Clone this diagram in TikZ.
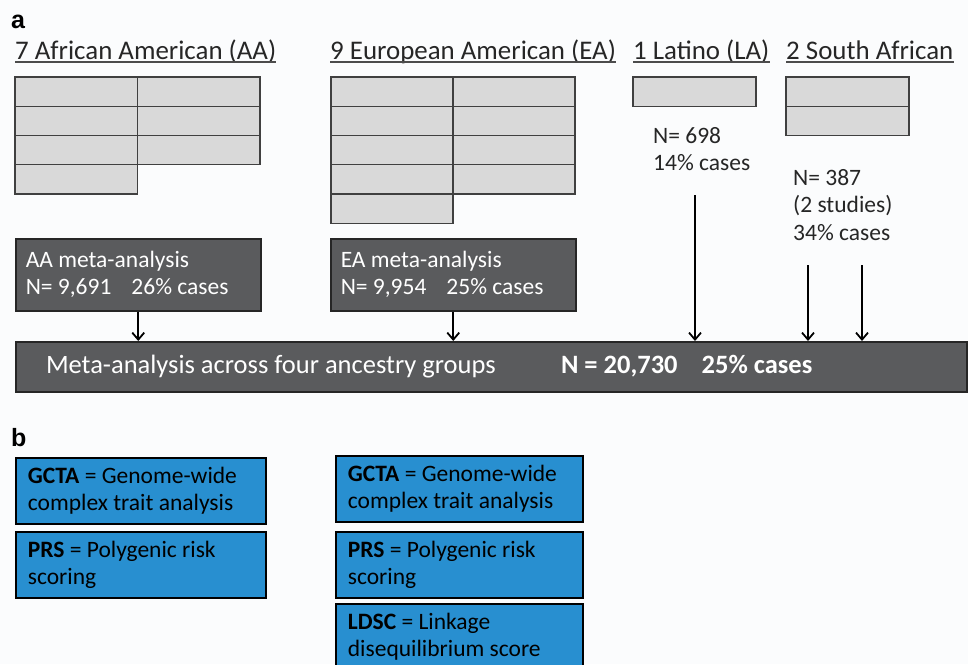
\documentclass[tikz,border=0pt]{standalone}
\usepackage{fontspec}
\setmainfont{Carlito}
\newfontfamily\lettre{Liberation Sans}
\usetikzlibrary{arrows.meta,positioning}
\definecolor{fond}{RGB}{251,252,253}
\definecolor{grisclair}{RGB}{217,217,217}
\definecolor{grisfonce}{RGB}{90,91,93}
\definecolor{bleu}{RGB}{40,143,208}
\begin{document}
\begin{tikzpicture}[x=1pt,y=-1pt]
\tikzset{
	every node/.style={execute at begin node={\spaceskip=0pt\xspaceskip=0pt\relax}},
	lettre/.style={anchor=base west, inner sep=0pt, font=\lettre\bfseries\fontsize{25}{25}\selectfont},
	titre/.style={anchor=base west, inner sep=0pt, text=black!85, font=\fontsize{26.9}{30}\selectfont},
	souligne/.style={black!70, line width=1.2pt},
	etude/.style={draw=black!75, fill=grisclair, line width=1.3pt},
	note/.style={anchor=base west, inner sep=0pt, text=black!85, font=\fontsize{23.5}{27}\selectfont},
	meta/.style={draw=black!85, fill=grisfonce, line width=1.5pt, text=white, anchor=north west,
		minimum width=245pt, minimum height=72pt, inner xsep=10pt, text width=225pt, align=left,
		font=\fontsize{23.5}{27}\selectfont},
	grand/.style={draw=black!85, fill=grisfonce, line width=2pt, text=white, anchor=north west,
		minimum width=951pt, minimum height=50pt, inner xsep=30pt, text width=891pt, align=left,
		font=\fontsize{26.5}{30}\selectfont},
	defbox/.style={draw=black, fill=bleu, line width=1.8pt, text=black, anchor=north west,
		minimum height=66pt, inner xsep=12pt, align=left, font=\fontsize{23.5}{27}\selectfont},
	fleche/.style={line width=1.8pt, -{Straight Barb[length=7pt,width=12pt]}},
}
  \clip (0,0) rectangle (968,664);
  \fill[fond] (0,0) rectangle (968,664);

% les lettres
  \node[lettre] (a) at (11,28) {a};
  \node[lettre] (b) at (11,446) {b};

% les en-têtes soulignés
  \node[titre] (aa-titre) at (15,59) {7 African American (AA)};
  \node[titre] (ea-titre) at (330,59) {9 European American (EA)};
  \node[titre] (la-titre) at (633,59) {1 Latino (LA)};
  \node[titre] (sa-titre) at (786,59) {2 South African};
  \foreach \t in {aa,ea,la,sa}
    \draw[souligne] ([yshift=-3pt]\t-titre.base west) -- ([yshift=-3pt]\t-titre.base east);

% les études
  \foreach \r in {0,1,2} \foreach \c in {0,1}
    \draw[etude] ({15+122.5*\c},{77+29.25*\r}) rectangle ++(122.5,29.25);
  \draw[etude] (15,{77+29.25*3}) rectangle ++(122.5,29.25);
  \foreach \r in {0,...,3} \foreach \c in {0,1}
    \draw[etude] ({331+122*\c},{77+29.25*\r}) rectangle ++(122,29.25);
  \draw[etude] (331,{77+29.25*4}) rectangle ++(122,29.25);
  \draw[etude] (633,77) rectangle ++(123,29.25);
  \foreach \r in {0,1}
    \draw[etude] (786,{77+29.25*\r}) rectangle ++(123,29.25);

% les effectifs
  \node[note] (la-n) at (653,143) {N= 698};
  \node[note] (la-cas) at (653,170) {14\% cases};
  \node[note] (sa-n) at (793,185) {N= 387};
  \node[note] (sa-etudes) at (793,212) {(2 studies)};
  \node[note] (sa-cas) at (793,240) {34\% cases};

% les méta-analyses
  \node[meta] (aa-meta) at (15,238) {AA meta-analysis\\N= 9,691\hspace{20pt}26\% cases};
  \node[meta] (ea-meta) at (330,238) {EA meta-analysis\\N= 9,954\hspace{20pt}25\% cases};
  \node[grand] (meta) at (15,341) {\makebox[515pt][l]{Meta-analysis across four ancestry groups}\textbf{N = 20,730\hspace{24pt}25\% cases}};

% les flèches
  \coordinate (la-fleche) at (695,195);
  \coordinate (sa-fleche1) at (808,265);
  \coordinate (sa-fleche2) at (862,265);
  \draw[fleche] (aa-meta.south) -- (aa-meta.south |- meta.north);
  \draw[fleche] (ea-meta.south) -- (ea-meta.south |- meta.north);
  \foreach \f in {la-fleche,sa-fleche1,sa-fleche2}
    \draw[fleche] (\f) -- (\f |- meta.north);

% les méthodes
  \node[defbox, text width=226pt] (gcta-g) at (15,457) {\textbf{GCTA} = Genome-wide\\complex trait analysis};
  \node[defbox, text width=226pt] (prs-g) at (15,531) {\textbf{PRS} = Polygenic risk\\scoring};
  \node[defbox, text width=223pt] (gcta-d) at (335,455) {\textbf{GCTA} = Genome-wide\\complex trait analysis};
  \node[defbox, text width=223pt] (prs-d) at (335,531) {\textbf{PRS} = Polygenic risk\\scoring};
  \node[defbox, text width=223pt] (ldsc-d) at (335,603) {\textbf{LDSC} = Linkage\\disequilibrium score};
\end{tikzpicture}
\end{document}
